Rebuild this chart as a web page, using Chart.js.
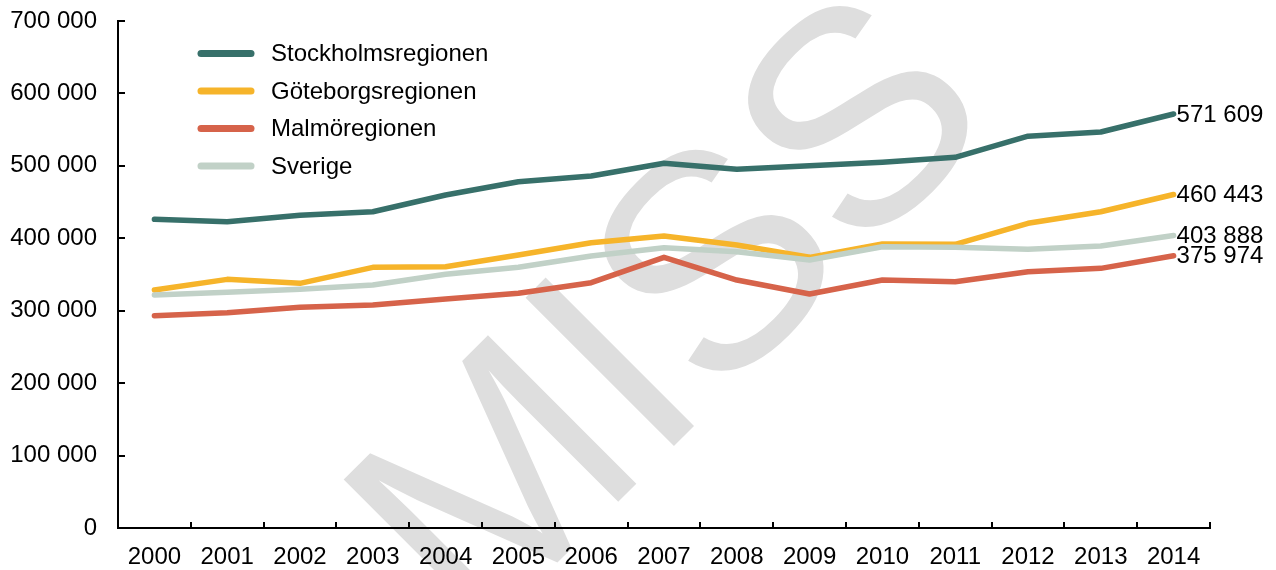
<!DOCTYPE html>
<html lang="sv">
<head>
<meta charset="utf-8">
<title>Regioner 2000–2014</title>
<script src="https://cdn.jsdelivr.net/npm/chart.js@4/dist/chart.umd.min.js"></script>
<style>
  html, body { margin: 0; padding: 0; background: #ffffff; }
  #wrap { width: 1276px; height: 570px; position: relative; }
</style>
</head>
<body>
<div id="wrap"><canvas id="chart"></canvas></div>
<script>
// år på x-axeln
const years = ['2000', '2001', '2002', '2003', '2004', '2005', '2006', '2007',
               '2008', '2009', '2010', '2011', '2012', '2013', '2014'];

// serier (sista värdet enligt etiketten)
const stockholm = [426200, 422900, 431700, 436700, 459800, 478100, 486000, 503500,
                   495200, 500200, 504900, 511800, 541000, 546700, 571609];
const goteborg  = [328600, 343300, 337800, 359900, 360800, 376900, 393900, 403100,
                   390700, 373700, 392100, 391700, 420700, 436700, 460443];
const malmo     = [293100, 297300, 304700, 307900, 316200, 324000, 338700, 373700,
                   342400, 323100, 342400, 340100, 353900, 358500, 375974];
const sverige   = [321700, 325400, 329500, 335500, 350300, 359900, 375500, 387000,
                   381500, 370000, 388400, 387500, 384800, 389300, 403888];

const seriesNames = ['Stockholmsregionen', 'Göteborgsregionen', 'Malmöregionen', 'Sverige'];
const seriesColors = ['#37706a', '#f6b42a', '#d6634a', '#c1d1c7'];

const yTicks = [0, 100000, 200000, 300000, 400000, 500000, 600000, 700000];
const watermarkText = 'MISS';

const FONT = '"Liberation Sans", Arial, sans-serif';
const FS = 24;

function fmt(v) {
    return String(Math.round(v)).replace(/\B(?=(\d{3})+(?!\d))/g, ' ');
}

Chart.defaults.font.family = FONT;
Chart.defaults.font.size = FS;
Chart.defaults.color = '#000000';

// vattenstämpel bakom allt
const watermarkPlugin = {
    id: 'watermark',
    beforeDraw(chart) {
        const ctx = chart.ctx;
        ctx.save();
        ctx.translate(738, 382);
        ctx.rotate(-Math.PI / 4);
        ctx.font = '305px ' + FONT;
        ctx.fillStyle = '#dedede';
        ctx.textAlign = 'center';
        ctx.textBaseline = 'alphabetic';
        ctx.fillText(watermarkText, 0, 0);
        ctx.restore();
    }
};

// korta streck innanför axlarna
const innerTicksPlugin = {
    id: 'innerTicks',
    afterDraw(chart) {
        const ctx = chart.ctx;
        const area = chart.chartArea;
        const xs = chart.scales.x;
        const ys = chart.scales.y;
        ctx.save();
        ctx.strokeStyle = '#000000';
        ctx.lineWidth = 2;
        ctx.beginPath();
        yTicks.forEach(v => {
            const y = Math.round(ys.getPixelForValue(v));
            ctx.moveTo(area.left, y);
            ctx.lineTo(area.left + 7, y);
        });
        for (let i = 0; i <= years.length; i++) {
            let x;
            if (i === 0) x = area.left;
            else if (i === years.length) x = area.right;
            else x = (xs.getPixelForValue(i - 1) + xs.getPixelForValue(i)) / 2;
            x = Math.round(x);
            ctx.moveTo(x, area.bottom);
            ctx.lineTo(x, area.bottom - 6);
        }
        ctx.stroke();
        ctx.restore();
    }
};

// värde vid sista punkten
const endLabelPlugin = {
    id: 'endLabels',
    afterDatasetsDraw(chart) {
        const ctx = chart.ctx;
        ctx.save();
        ctx.font = FS + 'px ' + FONT;
        ctx.fillStyle = '#000000';
        ctx.textAlign = 'left';
        ctx.textBaseline = 'middle';
        chart.data.datasets.forEach((ds, i) => {
            const meta = chart.getDatasetMeta(i);
            const last = meta.data[meta.data.length - 1];
            ctx.fillText(fmt(ds.data[ds.data.length - 1]), last.x + 3, last.y + 1);
        });
        ctx.restore();
    }
};

// egen förklaring uppe till vänster i diagrammet
const legendPlugin = {
    id: 'innerLegend',
    afterDraw(chart) {
        const ctx = chart.ctx;
        ctx.save();
        ctx.font = FS + 'px ' + FONT;
        ctx.textAlign = 'left';
        ctx.textBaseline = 'middle';
        chart.data.datasets.forEach((ds, i) => {
            const y = 53.5 + i * 37.5;
            ctx.strokeStyle = ds.borderColor;
            ctx.lineWidth = 7;
            ctx.lineCap = 'round';
            ctx.beginPath();
            ctx.moveTo(201, y);
            ctx.lineTo(251, y);
            ctx.stroke();
            ctx.fillStyle = '#000000';
            ctx.fillText(ds.label, 271, y + 1);
        });
        ctx.restore();
    }
};

const seriesData = [stockholm, goteborg, malmo, sverige];
const drawOrder = [3, 2, 1, 0];

new Chart(document.getElementById('chart'), {
    type: 'line',
    data: {
        labels: years,
        datasets: seriesData.map((d, i) => ({
            label: seriesNames[i],
            data: d,
            borderColor: seriesColors[i],
            backgroundColor: seriesColors[i],
            borderWidth: 5.5,
            borderCapStyle: 'round',
            borderJoinStyle: 'round',
            pointRadius: 0,
            tension: 0,
            fill: false,
            order: drawOrder[i]
        }))
    },
    plugins: [watermarkPlugin, innerTicksPlugin, endLabelPlugin, legendPlugin],
    options: {
        responsive: true,
        maintainAspectRatio: false,
        animation: false,
        devicePixelRatio: 1,
        layout: { padding: { left: 0, right: 66, top: 21, bottom: 0 } },
        plugins: {
            legend: { display: false },
            tooltip: { enabled: false }
        },
        scales: {
            x: {
                type: 'category',
                offset: true,
                grid: { display: true, drawOnChartArea: false, drawTicks: false, offset: true },
                border: { display: true, color: '#000000', width: 2 },
                ticks: { padding: 15, maxRotation: 0, autoSkip: false, font: { size: FS } },
                afterFit(scale) {
                    scale.height = 42;
                    scale.paddingLeft = 0;
                    scale.paddingRight = 0;
                }
            },
            y: {
                min: 0,
                max: 700000,
                grid: { display: true, drawOnChartArea: false, drawTicks: false },
                border: { display: true, color: '#000000', width: 2 },
                ticks: {
                    stepSize: 100000,
                    padding: 21,
                    font: { size: FS },
                    callback: v => fmt(v)
                },
                afterFit(scale) {
                    scale.width = 118;
                    scale.paddingTop = 0;
                    scale.paddingBottom = 0;
                }
            }
        }
    }
});
</script>
</body>
</html>
